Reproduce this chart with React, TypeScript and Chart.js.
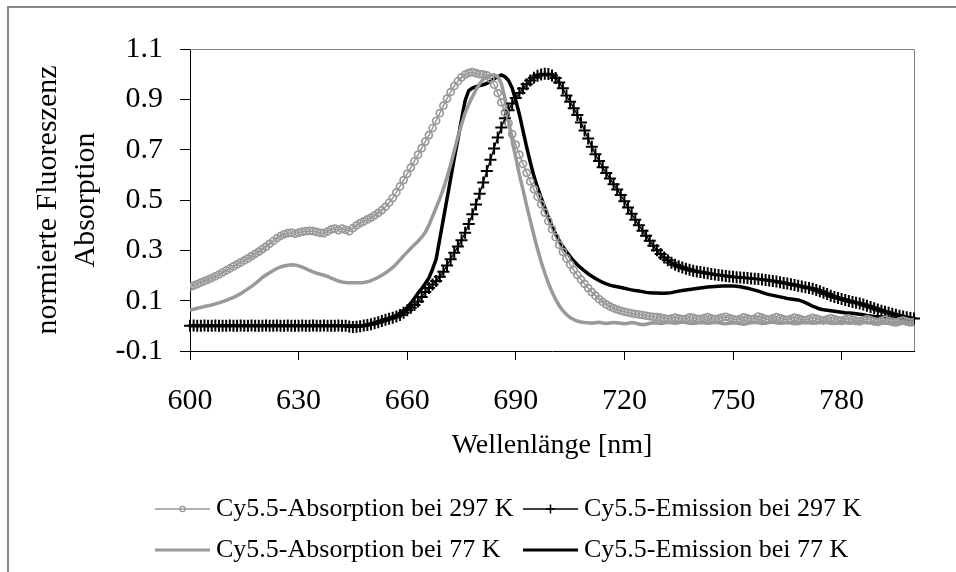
import { useEffect, useRef } from "react";
import { Chart, registerables } from "chart.js";

Chart.register(...registerables);

// Wavelength grid [nm]
const WAVELENGTHS = [
  600, 601, 602, 603, 604, 605, 606, 607, 608, 609,
  610, 611, 612, 613, 614, 615, 616, 617, 618, 619,
  620, 621, 622, 623, 624, 625, 626, 627, 628, 629,
  630, 631, 632, 633, 634, 635, 636, 637, 638, 639,
  640, 641, 642, 643, 644, 645, 646, 647, 648, 649,
  650, 651, 652, 653, 654, 655, 656, 657, 658, 659,
  660, 661, 662, 663, 664, 665, 666, 667, 668, 669,
  670, 671, 672, 673, 674, 675, 676, 677, 678, 679,
  680, 681, 682, 683, 684, 685, 686, 687, 688, 689,
  690, 691, 692, 693, 694, 695, 696, 697, 698, 699,
  700, 701, 702, 703, 704, 705, 706, 707, 708, 709,
  710, 711, 712, 713, 714, 715, 716, 717, 718, 719,
  720, 721, 722, 723, 724, 725, 726, 727, 728, 729,
  730, 731, 732, 733, 734, 735, 736, 737, 738, 739,
  740, 741, 742, 743, 744, 745, 746, 747, 748, 749,
  750, 751, 752, 753, 754, 755, 756, 757, 758, 759,
  760, 761, 762, 763, 764, 765, 766, 767, 768, 769,
  770, 771, 772, 773, 774, 775, 776, 777, 778, 779,
  780, 781, 782, 783, 784, 785, 786, 787, 788, 789,
  790, 791, 792, 793, 794, 795, 796, 797, 798, 799,
  800,
];

const ABS_297 = [
  0.155, 0.160, 0.166, 0.172, 0.178, 0.184, 0.190, 0.197, 0.204, 0.212,
  0.220, 0.228, 0.236, 0.244, 0.252, 0.260, 0.268, 0.277, 0.286, 0.295,
  0.305, 0.315, 0.326, 0.337, 0.348, 0.357, 0.364, 0.368, 0.370, 0.366,
  0.370, 0.374, 0.376, 0.377, 0.376, 0.373, 0.369, 0.368, 0.375, 0.383,
  0.386, 0.380, 0.386, 0.381, 0.376, 0.388, 0.399, 0.408, 0.415, 0.423,
  0.430, 0.439, 0.449, 0.460, 0.473, 0.489, 0.508, 0.530, 0.554, 0.579,
  0.604, 0.629, 0.654, 0.680, 0.706, 0.732, 0.758, 0.786, 0.815, 0.845,
  0.875, 0.903, 0.929, 0.953, 0.972, 0.987, 0.998, 1.005, 1.008, 1.004,
  1.000, 0.999, 0.995, 0.982, 0.958, 0.925, 0.888, 0.848, 0.805, 0.762,
  0.720, 0.680, 0.643, 0.608, 0.574, 0.543, 0.513, 0.483, 0.450, 0.416,
  0.384, 0.352, 0.322, 0.294, 0.268, 0.244, 0.222, 0.202, 0.184, 0.167,
  0.150, 0.134, 0.120, 0.106, 0.095, 0.085, 0.077, 0.070, 0.065, 0.060,
  0.056, 0.053, 0.050, 0.047, 0.045, 0.043, 0.040, 0.038, 0.036, 0.035,
  0.033, 0.030, 0.027, 0.029, 0.033, 0.030, 0.026, 0.028, 0.034, 0.032,
  0.028, 0.027, 0.031, 0.035, 0.030, 0.026, 0.029, 0.033, 0.036, 0.031,
  0.027, 0.024, 0.028, 0.034, 0.030, 0.026, 0.029, 0.037, 0.033, 0.027,
  0.025, 0.030, 0.035, 0.031, 0.026, 0.024, 0.028, 0.033, 0.030, 0.025,
  0.022, 0.027, 0.032, 0.029, 0.024, 0.021, 0.026, 0.031, 0.027, 0.022,
  0.020, 0.025, 0.029, 0.025, 0.020, 0.018, 0.023, 0.027, 0.023, 0.018,
  0.016, 0.020, 0.024, 0.020, 0.016, 0.014, 0.018, 0.021, 0.017, 0.014,
  0.015,
];

const EMI_297 = [
  0.000, 0.001, 0.000, 0.000, 0.001, 0.000, 0.000, 0.001, 0.000, 0.000,
  0.000, 0.001, 0.000, 0.000, 0.001, 0.000, 0.000, 0.001, 0.000, 0.000,
  0.000, 0.001, 0.000, 0.000, 0.001, 0.000, 0.000, 0.001, 0.000, 0.000,
  0.000, 0.001, 0.000, 0.000, 0.001, 0.000, 0.000, 0.001, 0.000, 0.000,
  0.000, 0.001, 0.000, 0.000, -0.003, -0.005, -0.004, -0.002, 0.001, 0.003,
  0.006, 0.010, 0.014, 0.019, 0.024, 0.028, 0.032, 0.037, 0.043, 0.052,
  0.062, 0.072, 0.083, 0.097, 0.115, 0.134, 0.150, 0.164, 0.178, 0.195,
  0.215, 0.240, 0.265, 0.290, 0.315, 0.340, 0.370, 0.405, 0.443, 0.482,
  0.525, 0.570, 0.615, 0.660, 0.705, 0.748, 0.788, 0.825, 0.857, 0.883,
  0.905, 0.925, 0.943, 0.960, 0.975, 0.986, 0.994, 0.999, 1.002, 1.001,
  0.995, 0.985, 0.967, 0.944, 0.915, 0.890, 0.865, 0.838, 0.808, 0.776,
  0.744, 0.712, 0.682, 0.655, 0.630, 0.607, 0.585, 0.563, 0.542, 0.520,
  0.495, 0.470, 0.445, 0.422, 0.400, 0.378, 0.358, 0.338, 0.318, 0.300,
  0.285, 0.272, 0.261, 0.251, 0.243, 0.237, 0.232, 0.227, 0.223, 0.219,
  0.216, 0.214, 0.211, 0.209, 0.206, 0.204, 0.202, 0.200, 0.198, 0.196,
  0.195, 0.193, 0.192, 0.191, 0.190, 0.188, 0.187, 0.186, 0.184, 0.182,
  0.180, 0.178, 0.176, 0.173, 0.170, 0.168, 0.165, 0.162, 0.159, 0.156,
  0.153, 0.150, 0.147, 0.142, 0.137, 0.131, 0.126, 0.120, 0.115, 0.111,
  0.107, 0.103, 0.099, 0.095, 0.092, 0.089, 0.085, 0.080, 0.075, 0.070,
  0.065, 0.060, 0.056, 0.052, 0.048, 0.044, 0.040, 0.037, 0.034, 0.031,
  0.029,
];

const ABS_77 = [
  0.063, 0.066, 0.070, 0.073, 0.077, 0.080, 0.083, 0.087, 0.091, 0.096,
  0.101, 0.107, 0.113, 0.120, 0.128, 0.137, 0.147, 0.157, 0.168, 0.180,
  0.192, 0.202, 0.211, 0.220, 0.228, 0.234, 0.238, 0.241, 0.243, 0.242,
  0.238, 0.233, 0.227, 0.220, 0.214, 0.209, 0.205, 0.201, 0.196, 0.190,
  0.184, 0.178, 0.174, 0.172, 0.171, 0.171, 0.171, 0.171, 0.172, 0.175,
  0.180, 0.186, 0.193, 0.201, 0.210, 0.220, 0.232, 0.246, 0.262, 0.278,
  0.293, 0.308, 0.322, 0.336, 0.352, 0.372, 0.400, 0.435, 0.470, 0.505,
  0.545, 0.590, 0.640, 0.695, 0.750, 0.800, 0.845, 0.880, 0.910, 0.938,
  0.962, 0.980, 0.990, 0.995, 0.997, 0.990, 0.963, 0.905, 0.815, 0.735,
  0.668, 0.600, 0.540, 0.478, 0.418, 0.360, 0.305, 0.255, 0.210, 0.170,
  0.135, 0.105, 0.080, 0.060, 0.045, 0.033, 0.025, 0.019, 0.015, 0.013,
  0.012, 0.010, 0.012, 0.014, 0.011, 0.009, 0.011, 0.013, 0.012, 0.010,
  0.008, 0.010, 0.013, 0.011, 0.007, 0.004, 0.006, 0.010, 0.012, 0.011,
  0.009, 0.011, 0.014, 0.012, 0.010, 0.012, 0.015, 0.013, 0.010, 0.009,
  0.011, 0.013, 0.012, 0.010, 0.011, 0.014, 0.012, 0.009, 0.008, 0.010,
  0.012, 0.011, 0.008, 0.006, 0.009, 0.012, 0.014, 0.012, 0.009, 0.010,
  0.013, 0.015, 0.012, 0.010, 0.011, 0.013, 0.011, 0.008, 0.009, 0.012,
  0.014, 0.012, 0.010, 0.011, 0.013, 0.015, 0.013, 0.010, 0.009, 0.011,
  0.013, 0.012, 0.010, 0.011, 0.014, 0.016, 0.014, 0.012, 0.011, 0.012,
  0.014, 0.013, 0.011, 0.010, 0.012, 0.013, 0.011, 0.010, 0.011, 0.012,
  0.012,
];

const EMI_77 = [
  0.000, 0.000, 0.000, 0.000, 0.000, 0.000, 0.000, 0.000, 0.000, 0.000,
  0.000, 0.000, 0.000, 0.000, 0.000, 0.000, 0.000, 0.000, 0.000, 0.000,
  0.000, 0.000, 0.000, 0.000, 0.000, 0.000, 0.000, 0.000, 0.000, 0.000,
  0.000, 0.000, 0.000, 0.000, 0.000, 0.000, 0.000, 0.000, 0.000, 0.000,
  0.000, 0.000, 0.000, 0.000, 0.000, 0.000, 0.000, 0.000, 0.000, 0.003,
  0.006, 0.010, 0.014, 0.019, 0.024, 0.029, 0.034, 0.040, 0.048, 0.058,
  0.072, 0.090, 0.110, 0.130, 0.148, 0.168, 0.190, 0.225, 0.265, 0.345,
  0.425, 0.505, 0.585, 0.665, 0.740, 0.820, 0.895, 0.935, 0.945, 0.950,
  0.955, 0.958, 0.963, 0.972, 0.982, 0.990, 0.997, 0.990, 0.975, 0.945,
  0.895, 0.840, 0.775, 0.710, 0.650, 0.595, 0.550, 0.510, 0.470, 0.430,
  0.395, 0.365, 0.338, 0.315, 0.294, 0.275, 0.258, 0.243, 0.230, 0.218,
  0.207, 0.197, 0.188, 0.180, 0.173, 0.167, 0.162, 0.158, 0.155, 0.152,
  0.149, 0.146, 0.143, 0.140, 0.138, 0.136, 0.133, 0.131, 0.130, 0.130,
  0.129, 0.129, 0.130, 0.132, 0.135, 0.138, 0.140, 0.142, 0.144, 0.146,
  0.148, 0.150, 0.152, 0.154, 0.155, 0.156, 0.157, 0.158, 0.158, 0.158,
  0.158, 0.157, 0.155, 0.152, 0.149, 0.146, 0.142, 0.138, 0.133, 0.128,
  0.124, 0.121, 0.118, 0.115, 0.112, 0.109, 0.107, 0.105, 0.103, 0.098,
  0.092, 0.085, 0.078, 0.072, 0.067, 0.064, 0.062, 0.060, 0.058, 0.056,
  0.054, 0.052, 0.051, 0.050, 0.048, 0.046, 0.044, 0.041, 0.039, 0.037,
  0.036, 0.035, 0.034, 0.033, 0.031, 0.030, 0.029, 0.028, 0.027, 0.026,
  0.026,
];

const SERIES_LABELS = [
  "Cy5.5-Absorption bei 297 K",
  "Cy5.5-Emission bei 297 K",
  "Cy5.5-Absorption bei 77 K",
  "Cy5.5-Emission bei 77 K",
];

const X_TICKS = [600, 630, 660, 690, 720, 750, 780];
const Y_TICKS = [-0.1, 0.1, 0.3, 0.5, 0.7, 0.9, 1.1];
const X_TITLE = "Wellenlänge [nm]";
const Y_TITLE = ["normierte Fluoreszenz", "Absorption"];

const FONT = '"Liberation Serif", "Times New Roman", serif';
const GRAY = "#999999";

const framePlugin = {
  id: "plotFrame",
  beforeDatasetsDraw(chart: any) {
    const { ctx, chartArea: a } = chart;
    ctx.save();
    ctx.strokeStyle = "#808080";
    ctx.lineWidth = 1;
    ctx.beginPath();
    ctx.moveTo(a.left, a.top + 0.5);
    ctx.lineTo(a.right + 0.5, a.top + 0.5);
    ctx.lineTo(a.right + 0.5, a.bottom);
    ctx.stroke();
    ctx.restore();
  },
};

function drawMarker(ctx: CanvasRenderingContext2D, ds: any, x: number, y: number, scale: number) {
  const r = ds.pointRadius * scale;
  if (!r) return;
  ctx.save();
  ctx.strokeStyle = ds.pointBorderColor;
  ctx.lineWidth = ds.pointBorderWidth * scale;
  ctx.beginPath();
  if (ds.pointStyle === "cross") {
    ctx.moveTo(x - r, y);
    ctx.lineTo(x + r, y);
    ctx.moveTo(x, y - r);
    ctx.lineTo(x, y + r);
  } else {
    ctx.arc(x, y, r, 0, Math.PI * 2);
  }
  ctx.stroke();
  ctx.restore();
}

const gridLegendPlugin = {
  id: "gridLegend",
  afterDraw(chart: any) {
    const { ctx, chartArea: a } = chart;
    const rowY = [a.bottom + 158, a.bottom + 199];
    const colX = [a.left - 35, a.left + 333];
    const lineLen = 55;
    const gap = 6;
    ctx.save();
    ctx.font = `26px ${FONT}`;
    ctx.textBaseline = "middle";
    ctx.textAlign = "left";
    chart.data.datasets.forEach((ds: any, i: number) => {
      const x = colX[i % 2];
      const y = rowY[Math.floor(i / 2)];
      ctx.save();
      ctx.strokeStyle = ds.borderColor;
      ctx.lineWidth = Math.min(ds.borderWidth, 3);
      ctx.beginPath();
      ctx.moveTo(x, y);
      ctx.lineTo(x + lineLen, y);
      ctx.stroke();
      ctx.restore();
      drawMarker(ctx, ds, x + lineLen / 2, y, 0.75);
      ctx.fillStyle = "#000";
      ctx.fillText(ds.label, x + lineLen + gap, y);
    });
    ctx.restore();
  },
};

export default function App() {
  const ref = useRef<HTMLCanvasElement>(null);

  useEffect(() => {
    if (!ref.current) return;
    const pts = (ys: number[]) => WAVELENGTHS.map((x, i) => ({ x, y: ys[i] }));
    const chart = new Chart(ref.current, {
      type: "line",
      data: {
        datasets: [
          {
            label: SERIES_LABELS[0],
            data: pts(ABS_297),
            borderColor: GRAY,
            borderWidth: 1.5,
            pointStyle: "circle",
            pointRadius: 3.5,
            pointBorderColor: GRAY,
            pointBorderWidth: 1.7,
            pointBackgroundColor: "rgba(0,0,0,0)",
            tension: 0,
          },
          {
            label: SERIES_LABELS[1],
            data: pts(EMI_297),
            borderColor: "#000",
            borderWidth: 1.3,
            pointStyle: "cross",
            pointRadius: 6,
            pointBorderColor: "#000",
            pointBorderWidth: 2,
            tension: 0,
            clip: false,
          },
          {
            label: SERIES_LABELS[2],
            data: pts(ABS_77),
            borderColor: GRAY,
            borderWidth: 3.5,
            pointRadius: 0,
            tension: 0,
          },
          {
            label: SERIES_LABELS[3],
            data: pts(EMI_77),
            borderColor: "#000",
            borderWidth: 3.5,
            pointRadius: 0,
            tension: 0,
          },
        ] as any,
      },
      options: {
        responsive: false,
        devicePixelRatio: 1,
        animation: false,
        events: [],
        layout: { padding: { left: 0, top: 41, right: 42, bottom: 101 } },
        plugins: {
          legend: { display: false },
          tooltip: { enabled: false },
        },
        scales: {
          x: {
            type: "linear",
            min: 600,
            max: 800,
            afterBuildTicks: (s: any) => {
              s.ticks = X_TICKS.map((v) => ({ value: v }));
            },
            afterFit: (s: any) => {
              s.height = 120;
            },
            grid: {
              drawOnChartArea: false,
              drawTicks: true,
              tickLength: 9,
              tickColor: "#000",
              color: "#000",
            },
            border: { display: true, color: "#000", width: 1 },
            ticks: {
              color: "#000",
              font: { family: FONT, size: 30 },
              padding: 23,
              maxRotation: 0,
              autoSkip: false,
              callback: (v: any) => String(v),
            },
            title: {
              display: true,
              text: X_TITLE,
              color: "#000",
              font: { family: FONT, size: 28 },
              padding: { top: 0, bottom: 9 },
            },
          },
          y: {
            type: "linear",
            min: -0.1,
            max: 1.1,
            afterBuildTicks: (s: any) => {
              s.ticks = Y_TICKS.map((v) => ({ value: v }));
            },
            afterFit: (s: any) => {
              s.width = 181;
            },
            grid: {
              drawOnChartArea: false,
              drawTicks: true,
              tickLength: 10,
              tickColor: "#000",
              color: "#000",
            },
            border: { display: true, color: "#000", width: 1 },
            ticks: {
              color: "#000",
              font: { family: FONT, size: 30 },
              padding: 17,
              autoSkip: false,
              callback: (v: any) => Number(v).toFixed(1),
            },
            title: {
              display: true,
              text: Y_TITLE,
              color: "#000",
              font: { family: FONT, size: 30, lineHeight: 1.27 },
              padding: { top: 20, bottom: 0 },
            },
          },
        },
      } as any,
      plugins: [framePlugin, gridLegendPlugin],
    });
    return () => chart.destroy();
  }, []);

  return (
    <div
      style={{
        position: "fixed",
        left: 7,
        top: 6,
        width: 947,
        height: 564,
        borderLeft: "2px solid #888888",
        borderTop: "2px solid #888888",
        background: "#fff",
        overflow: "hidden",
      }}
    >
      <canvas ref={ref} width={947} height={564} style={{ display: "block" }} />
    </div>
  );
}
